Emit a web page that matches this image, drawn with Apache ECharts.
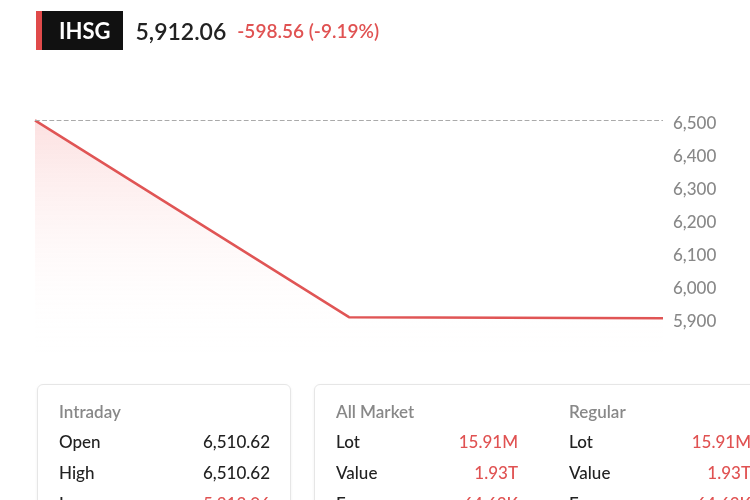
<!DOCTYPE html>
<html><head><meta charset="utf-8">
<script src="https://cdn.jsdelivr.net/npm/echarts@6/dist/echarts.min.js"></script>
<style>
body{margin:0;width:750px;height:500px;overflow:hidden;background:#fff;font-family:Lato,"Noto Sans",sans-serif;position:relative}
#c{position:absolute;left:0;top:0;width:750px;height:500px}
.hdr{position:absolute;top:11px;left:36px;display:flex;align-items:center;height:39px}
.tag{background:#111;color:#fff;font-weight:700;font-size:22px;height:39px;line-height:39px;padding:0 12px 0 17px;border-left:6px solid #e04a4a;box-sizing:border-box}
.px{font-size:23px;color:#222;margin-left:13px;font-weight:600}
.ch{font-size:19px;color:#e05252;margin-left:11px;font-weight:600}
.card{position:absolute;top:384px;height:140px;border:1px solid #e6e6e6;border-radius:6px;background:#fff;box-shadow:0 1px 3px rgba(0,0,0,0.06)}
.t{position:absolute;font-size:17px;color:#888;font-weight:600}
.k{position:absolute;font-size:17px;color:#222;font-weight:500}
.v{position:absolute;font-size:17px;color:#222;text-align:right;font-weight:500}
.r{color:#e05252}
</style></head><body>
<div id="c"></div>
<div class="hdr"><div class="tag">IHSG</div><div class="px">5,912.06</div><div class="ch">-598.56 (-9.19%)</div></div>
<div class="card" style="left:37px;width:252px">
 <div class="t" style="left:21px;top:16px">Intraday</div>
 <div class="k" style="left:21px;top:46px">Open</div><div class="v" style="right:20px;top:46px">6,510.62</div>
 <div class="k" style="left:21px;top:77px">High</div><div class="v" style="right:20px;top:77px">6,510.62</div>
 <div class="k" style="left:21px;top:108px">Low</div><div class="v r" style="right:20px;top:108px">5,912.06</div>
</div>
<div class="card" style="left:314px;width:460px">
 <div class="t" style="left:21px;top:16px">All Market</div>
 <div class="k" style="left:21px;top:46px">Lot</div><div class="v r" style="left:103px;width:100px;top:46px">15.91M</div>
 <div class="k" style="left:21px;top:77px">Value</div><div class="v r" style="left:103px;width:100px;top:77px">1.93T</div>
 <div class="k" style="left:21px;top:108px">Freq</div><div class="v r" style="left:103px;width:100px;top:108px">64.63K</div>
 <div class="t" style="left:254px;top:16px">Regular</div>
 <div class="k" style="left:254px;top:46px">Lot</div><div class="v r" style="left:336px;width:100px;top:46px">15.91M</div>
 <div class="k" style="left:254px;top:77px">Value</div><div class="v r" style="left:336px;width:100px;top:77px">1.93T</div>
 <div class="k" style="left:254px;top:108px">Freq</div><div class="v r" style="left:336px;width:100px;top:108px">64.63K</div>
</div>
<script>
const times = ['09:00', '09:30', '10:00'];
const prices = [6510.62, 5912.06, 5909.0];
const prevClose = 6510.62;
const chart = echarts.init(document.getElementById('c'));
chart.setOption({
  animation:false,
  grid:{left:35,right:87,top:91,bottom:146},
  xAxis:{type:'category',data:times,boundaryGap:false,show:false},
  yAxis:{type:'value',position:'right',min:5800,max:6600,interval:100,
    splitLine:{show:false},axisLine:{show:false},axisTick:{show:false},
    axisLabel:{color:'#888',fontSize:17,margin:10,fontFamily:'Lato',fontWeight:500,
      formatter:v=>(v<5900||v>6500)?'':v.toLocaleString('en-US')}},
  series:[{type:'line',data:prices,symbol:'none',
    lineStyle:{color:'#e05555',width:2.5},
    areaStyle:{color:new echarts.graphic.LinearGradient(0,0,0,1,[{offset:0,color:'rgba(240,100,100,0.28)'},{offset:1,color:'rgba(255,255,255,0)'}])},
    markLine:{symbol:'none',silent:true,label:{show:false},
      lineStyle:{color:'#aaa',type:'dashed',width:1.2},data:[{yAxis:prevClose}]}}]
});
</script>
</body></html>
